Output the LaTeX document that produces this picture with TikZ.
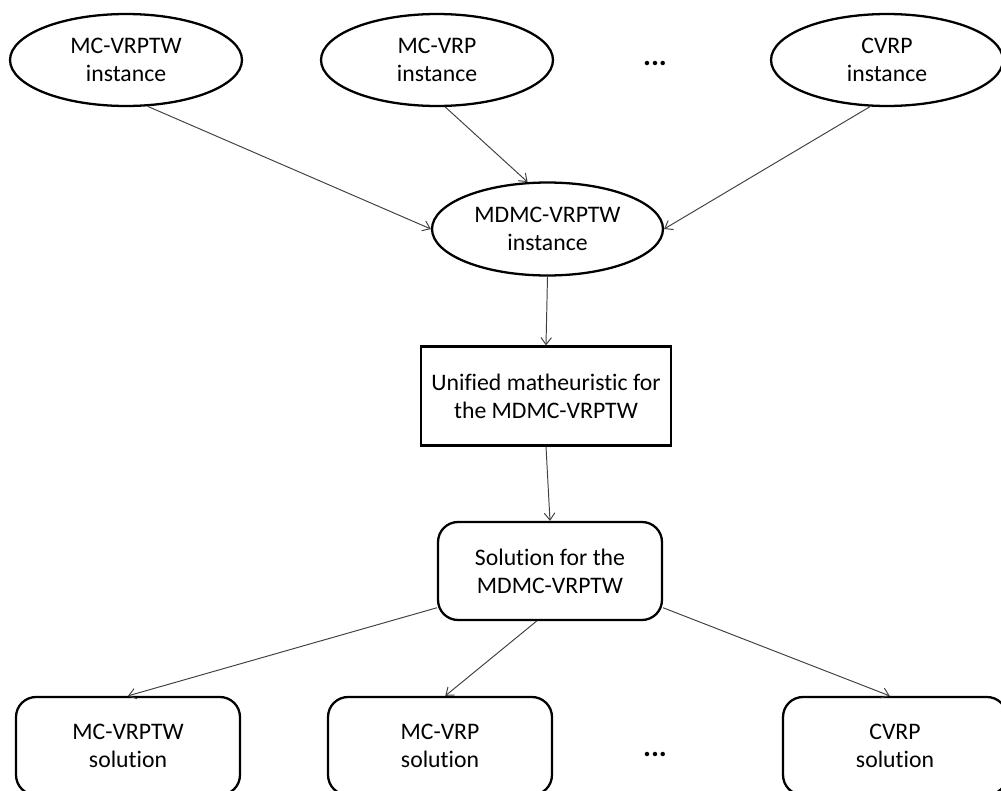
\documentclass[tikz,border=0pt]{standalone}
\usepackage{fontspec}
\setmainfont[Ligatures=NoCommon]{Carlito}
\usetikzlibrary{arrows.meta,shapes.geometric}
\tikzset{
  inst/.style={draw,ellipse,line width=1.3pt,minimum width=4.64cm,minimum height=1.84cm,inner sep=0pt,align=center},
  algo/.style={draw,rectangle,line width=1.3pt,minimum width=5cm,minimum height=1.98cm,inner sep=0pt,align=center},
  sol/.style={draw,rectangle,rounded corners=0.4cm,line width=1.3pt,minimum width=4.48cm,minimum height=1.96cm,inner sep=0pt,align=center},
  link/.style={-{Straight Barb[length=4pt,width=6pt]},line width=0.55pt,draw=black!75},
  gap/.style={font=\fontsize{17}{17}\selectfont\bfseries},
}
\begin{document}
\begin{tikzpicture}[x=0.02cm,y=-0.02cm,font=\fontsize{13.5}{16}\selectfont]
\useasboundingbox (0,0) rectangle (1001,791);
\node[inst] (mcvrptwIn) at (126,60) {MC-VRPTW\\instance};
\node[inst] (mcvrpIn) at (437,60) {MC-VRP\\instance};
\node[gap] (dotsTop) at (655,64) {...};
\node[inst] (cvrpIn) at (887,60) {CVRP\\instance};
\node[inst,minimum width=4.62cm,minimum height=1.86cm] (mdmcIn) at (547.5,229) {MDMC-VRPTW\\instance};
\node[algo] (unified) at (546,396) {Unified matheuristic for\\the MDMC-VRPTW};
\node[sol] (mdmcSol) at (550,571) {Solution for the\\MDMC-VRPTW};
\node[sol] (mcvrptwSol) at (128,746) {MC-VRPTW\\solution};
\node[sol] (mcvrpSol) at (440,746) {MC-VRP\\solution};
\node[gap] (dotsBot) at (655,754) {...};
\node[sol] (cvrpSol) at (895,746) {CVRP\\solution};
\draw[link] (mcvrptwIn.-65)--(mdmcIn.west);
\draw[link] (mcvrpIn.-80)--(mdmcIn.113);
\draw[link] (cvrpIn.-110)--(mdmcIn.east);
\draw[link] (mdmcIn.south)--(unified.north);
\draw[link] (unified.south)--(mdmcSol.north);
\draw[link] (mdmcSol.198)--(mcvrptwSol.north);
\draw[link] (mdmcSol.-105)--(mcvrpSol.84);
\draw[link] (mdmcSol.-18)--(cvrpSol.96);
\end{tikzpicture}
\end{document}
